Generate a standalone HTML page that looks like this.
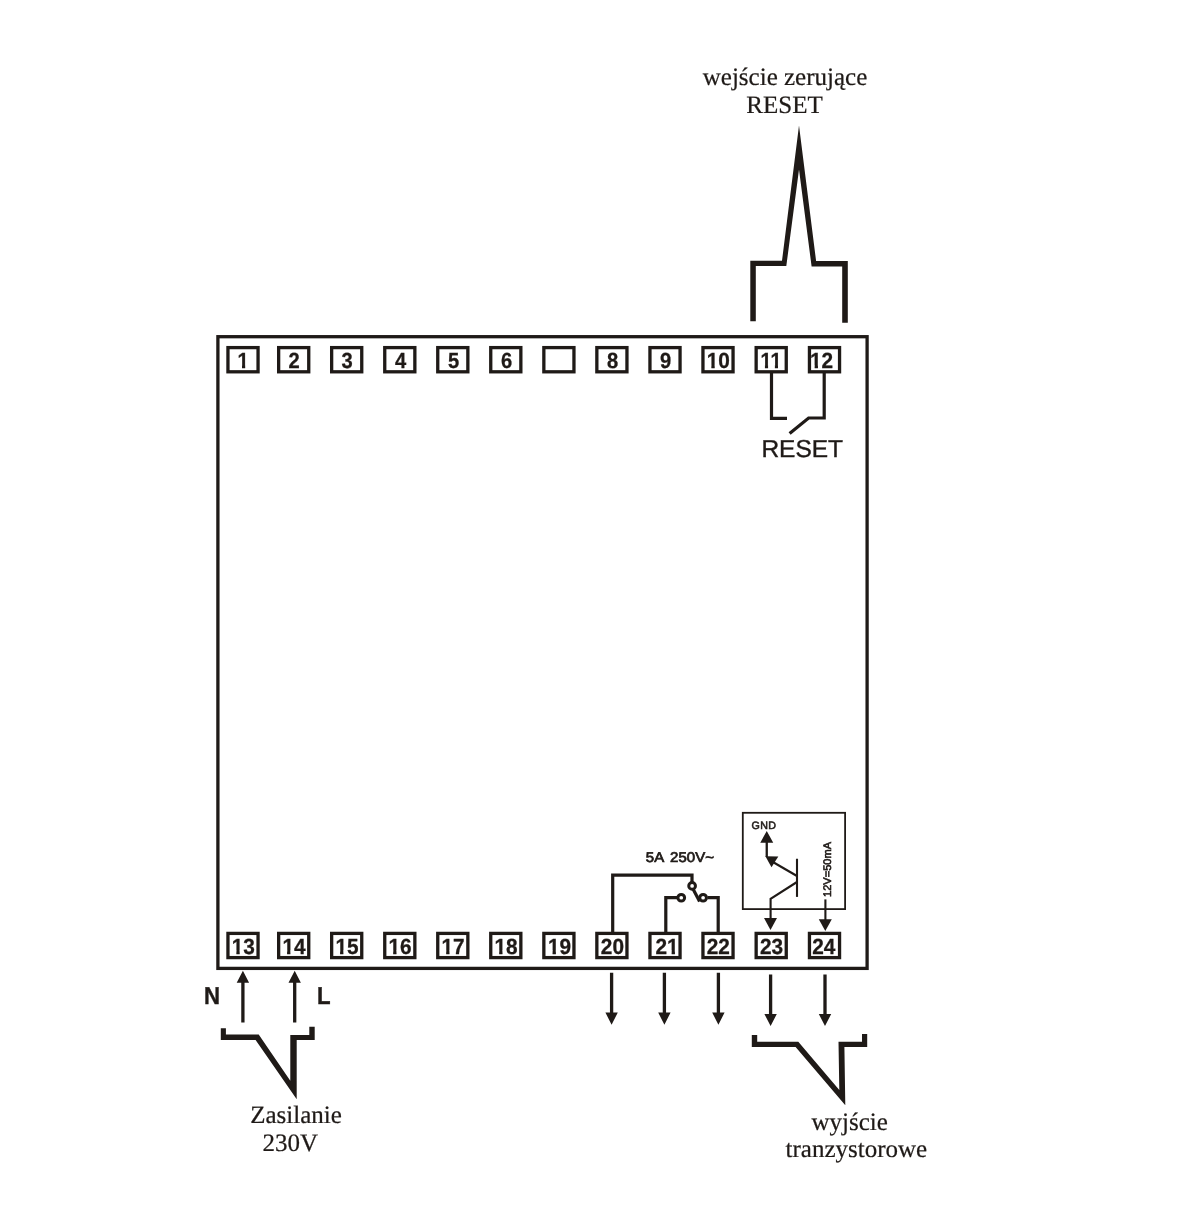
<!DOCTYPE html>
<html lang="pl">
<head>
<meta charset="utf-8">
<title>Schemat podłączeń</title>
<style>
html,body{margin:0;padding:0;background:#fff;}
body{width:1200px;height:1211px;overflow:hidden;}
svg{display:block;will-change:transform;}
text{text-rendering:geometricPrecision;}
.s{font-family:"Liberation Serif","DejaVu Serif",serif;font-size:25px;fill:#1f1a17;stroke:#1f1a17;stroke-width:0.22;}
.n{font-family:"Liberation Sans","DejaVu Sans",sans-serif;font-weight:bold;font-size:21.9px;fill:#1f1a17;text-anchor:middle;stroke:#1f1a17;stroke-width:0.3;}
.m{font-family:"Liberation Sans","DejaVu Sans",sans-serif;fill:#1f1a17;stroke:#1f1a17;stroke-width:0.45;}
.a{font-family:"Liberation Sans","DejaVu Sans",sans-serif;fill:#1f1a17;}
.b{font-family:"Liberation Sans","DejaVu Sans",sans-serif;font-weight:bold;fill:#1f1a17;}
.w{fill:none;stroke:#1f1a17;stroke-width:3.2;stroke-linejoin:miter;stroke-linecap:butt;}
.t{fill:none;stroke:#1f1a17;stroke-width:2.1;stroke-linejoin:miter;stroke-linecap:butt;}
.f{fill:#1f1a17;stroke:none;}
.bx{fill:#fff;stroke:#1f1a17;stroke-width:3.3;}
</style>
</head>
<body>
<svg width="1200" height="1211" viewBox="0 0 1200 1211">
<rect x="0" y="0" width="1200" height="1211" fill="#fff"/>

<rect x="217.9" y="336.7" width="649.2" height="631.7" fill="none" stroke="#1f1a17" stroke-width="3.3"/>
<defs>
<clipPath id="c1"><rect x="-30" y="-30" width="60" height="26.90"/><rect x="-1.19" y="-3.4" width="3.45" height="5"/></clipPath>
<clipPath id="c1x"><rect x="-30" y="-30" width="60" height="26.90"/><rect x="-7.28" y="-3.4" width="3.45" height="5"/><rect x="0.44" y="-3.4" width="12.18" height="5"/></clipPath>
<clipPath id="c11"><rect x="-30" y="-30" width="60" height="26.90"/><rect x="-6.67" y="-3.4" width="3.45" height="5"/><rect x="4.28" y="-3.4" width="3.45" height="5"/></clipPath>
<clipPath id="cx1"><rect x="-30" y="-30" width="60" height="26.90"/><rect x="-14" y="-3.4" width="14.66" height="5"/><rect x="4.90" y="-3.4" width="3.45" height="5"/></clipPath>
</defs>
<rect class="bx" x="227.95" y="347.60" width="30.10" height="24.20"/>
<text class="n" transform="translate(243.10 368.00) scale(0.920 1)" clip-path="url(#c1)">1</text>
<rect class="bx" x="278.65" y="347.60" width="30.10" height="24.20"/>
<text class="n" transform="translate(294.00 368.00) scale(0.920 1)">2</text>
<rect class="bx" x="331.65" y="347.60" width="30.10" height="24.20"/>
<text class="n" transform="translate(347.00 368.00) scale(0.920 1)">3</text>
<rect class="bx" x="384.75" y="347.60" width="30.10" height="24.20"/>
<text class="n" transform="translate(400.50 368.00) scale(0.920 1)">4</text>
<rect class="bx" x="437.75" y="347.60" width="30.10" height="24.20"/>
<text class="n" transform="translate(453.50 368.00) scale(0.920 1)">5</text>
<rect class="bx" x="490.75" y="347.60" width="30.10" height="24.20"/>
<text class="n" transform="translate(506.60 368.00) scale(0.920 1)">6</text>
<rect class="bx" x="543.85" y="347.60" width="30.10" height="24.20"/>
<rect class="bx" x="596.85" y="347.60" width="30.10" height="24.20"/>
<text class="n" transform="translate(612.60 368.00) scale(0.920 1)">8</text>
<rect class="bx" x="649.95" y="347.60" width="30.10" height="24.20"/>
<text class="n" transform="translate(665.70 368.00) scale(0.920 1)">9</text>
<rect class="bx" x="702.95" y="347.60" width="30.10" height="24.20"/>
<text class="n" transform="translate(718.30 368.00) scale(0.950 1)" clip-path="url(#c1x)">10</text>
<rect class="bx" x="756.15" y="347.60" width="30.10" height="24.20"/>
<text class="n" transform="translate(771.00 368.00) scale(0.910 1)" clip-path="url(#c11)">11</text>
<rect class="bx" x="809.45" y="347.60" width="30.10" height="24.20"/>
<text class="n" transform="translate(821.60 368.00) scale(0.950 1)" clip-path="url(#c1x)">12</text>
<rect class="bx" x="227.95" y="933.40" width="30.10" height="24.20"/>
<text class="n" transform="translate(243.30 953.60) scale(0.950 1)" clip-path="url(#c1x)">13</text>
<rect class="bx" x="278.65" y="933.40" width="30.10" height="24.20"/>
<text class="n" transform="translate(294.00 953.60) scale(0.950 1)" clip-path="url(#c1x)">14</text>
<rect class="bx" x="331.65" y="933.40" width="30.10" height="24.20"/>
<text class="n" transform="translate(347.00 953.60) scale(0.950 1)" clip-path="url(#c1x)">15</text>
<rect class="bx" x="384.75" y="933.40" width="30.10" height="24.20"/>
<text class="n" transform="translate(400.10 953.60) scale(0.950 1)" clip-path="url(#c1x)">16</text>
<rect class="bx" x="437.75" y="933.40" width="30.10" height="24.20"/>
<text class="n" transform="translate(453.10 953.60) scale(0.950 1)" clip-path="url(#c1x)">17</text>
<rect class="bx" x="490.75" y="933.40" width="30.10" height="24.20"/>
<text class="n" transform="translate(506.10 953.60) scale(0.950 1)" clip-path="url(#c1x)">18</text>
<rect class="bx" x="543.85" y="933.40" width="30.10" height="24.20"/>
<text class="n" transform="translate(559.50 953.60) scale(0.950 1)" clip-path="url(#c1x)">19</text>
<rect class="bx" x="596.85" y="933.40" width="30.10" height="24.20"/>
<text class="n" transform="translate(612.40 953.60) scale(0.950 1)">20</text>
<rect class="bx" x="649.95" y="933.40" width="30.10" height="24.20"/>
<text class="n" transform="translate(667.00 953.60) scale(0.950 1)" clip-path="url(#cx1)">21</text>
<rect class="bx" x="702.95" y="933.40" width="30.10" height="24.20"/>
<text class="n" transform="translate(718.30 953.60) scale(0.950 1)">22</text>
<rect class="bx" x="756.15" y="933.40" width="30.10" height="24.20"/>
<text class="n" transform="translate(771.50 953.60) scale(0.950 1)">23</text>
<rect class="bx" x="809.45" y="933.40" width="30.10" height="24.20"/>
<text class="n" transform="translate(823.80 953.60) scale(0.950 1)">24</text>
<path class="w" d="M771.5 373 V418.3 H787"/>
<path class="w" d="M824.2 373 V418 H808.6 L789.6 433.6"/>
<text class="a" x="802.25" y="457.15" font-size="24.5" text-anchor="middle" stroke="#1f1a17" stroke-width="0.4">RESET</text>
<polygon class="f" points="750.3,321.2 750.3,260.8 782,260.8 799,125.6 816.1,261 847.8,261 847.8,322.8 842.2,322.8 842.2,266.5 811.6,266.5 799,169.5 786.3,266.1 755.8,266.1 755.8,321.2"/>
<text class="s" x="785.0" y="85.4" text-anchor="middle">wejście zerujące</text>
<text class="s" x="784.5" y="113.1" text-anchor="middle">RESET</text>
<path class="f" d="M241.25 1022.50 h3.30 V982.80 h4.55 L242.90 970.80 L236.70 982.80 h4.55 V1022.50 z"/>
<path class="f" d="M293.05 1022.50 h3.30 V982.80 h4.55 L294.70 970.80 L288.50 982.80 h4.55 V1022.50 z"/>
<text class="b" transform="translate(211.9 1003.7) scale(0.91 1)" font-size="24.4" text-anchor="middle" stroke="#1f1a17" stroke-width="0.4">N</text>
<text class="b" transform="translate(323.7 1003.7) scale(0.91 1)" font-size="24.4" text-anchor="middle" stroke="#1f1a17" stroke-width="0.4">L</text>
<path class="f" d="M609.95 972.75 h3.30 V1012.50 h4.55 L611.60 1024.75 L605.40 1012.50 h4.55 V972.75 z"/>
<path class="f" d="M662.75 972.75 h3.30 V1012.50 h4.55 L664.40 1024.75 L658.20 1012.50 h4.55 V972.75 z"/>
<path class="f" d="M716.75 972.75 h3.30 V1012.50 h4.55 L718.40 1024.75 L712.20 1012.50 h4.55 V972.75 z"/>
<path class="f" d="M768.95 974.40 h3.30 V1014.00 h4.55 L770.60 1026.00 L764.40 1014.00 h4.55 V974.40 z"/>
<path class="f" d="M823.35 974.40 h3.30 V1014.00 h4.55 L825.00 1026.00 L818.80 1014.00 h4.55 V974.40 z"/>
<polygon class="f" points="220.8,1028.2 225.9,1028.2 225.9,1034.6 258.7,1034.6 290.3,1080.8 290.3,1035 309.3,1035 309.3,1026.7 314.7,1026.7 314.7,1040.1 296.7,1040.1 296.7,1099.2 255.6,1040.1 220.8,1040.1"/>
<text class="s" x="296" y="1123.3" text-anchor="middle">Zasilanie</text>
<text class="s" x="290.4" y="1150.8" text-anchor="middle">230V</text>
<polygon class="f" points="751.8,1035 757.2,1035 757.2,1041.7 798.3,1041.7 839.3,1090 838.5,1041.7 862,1041.7 862,1034.1 867.2,1034.1 867.2,1047 844.4,1047 845.3,1105.2 795.6,1047 751.8,1047"/>
<text class="s" x="849.6" y="1130" text-anchor="middle">wyjście</text>
<text class="s" x="856.4" y="1157.2" text-anchor="middle">tranzystorowe</text>
<path class="w" d="M612.7 932.5 V875.2 H692 V882.5"/>
<path class="w" d="M665.8 932.5 V897.7 H677"/>
<path class="w" d="M718.2 932.5 V897.7 H707.5"/>
<path class="w" d="M692.8 888.5 L699.6 901.6"/>
<circle cx="692.10" cy="885.90" r="3.35" fill="#fff" stroke="#1f1a17" stroke-width="3"/>
<circle cx="681.25" cy="897.75" r="3.35" fill="#fff" stroke="#1f1a17" stroke-width="3"/>
<circle cx="703.10" cy="897.75" r="3.35" fill="#fff" stroke="#1f1a17" stroke-width="3"/>
<text class="m" transform="translate(645.7 861.6) scale(1.012 0.955)" font-size="14.8" style="word-spacing:2.3px;letter-spacing:0.1px;stroke-width:0.75">5A 250V~</text>
<rect x="742.8" y="812.8" width="102.3" height="96.3" fill="none" stroke="#1f1a17" stroke-width="1.8"/>
<text class="m" x="751.4" y="828.7" font-size="10.7" style="letter-spacing:0.45px;stroke-width:0.55">GND</text>
<path class="f" d="M765.60 857.00 h2.30 V842.75 h5.35 L766.75 830.90 L760.25 842.75 h5.35 V857.00 z"/>
<polygon class="f" points="765.4,856.3 778.3,856.6 771.5,867.2"/>
<path class="t" d="M772 861.5 L797 876"/>
<path class="t" d="M797 858.75 V896.9"/>
<path class="t" d="M797 882 L770.6 898.75 V919"/>
<polygon class="f" points="764.0,918.1 777.0,918.1 770.5,930.1"/>
<path class="t" d="M825.4 899.4 V920"/>
<polygon class="f" points="818.8,919.3 831.8,919.3 825.3,931.1"/>
<text class="m" font-size="11" transform="translate(831.35 897.0) rotate(-90)" style="letter-spacing:0.04px;stroke-width:0.6">12V=50mA</text>
</svg>
</body>
</html>
